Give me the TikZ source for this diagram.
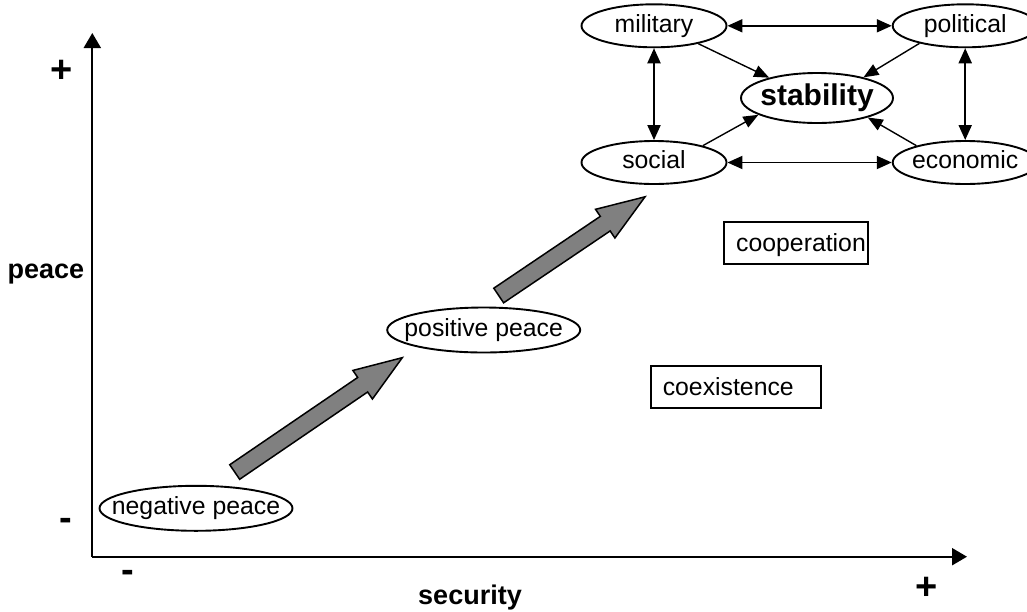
\documentclass[tikz,border=0pt]{standalone}
\usepackage{fontspec}
\setmainfont{Liberation Sans}
\usetikzlibrary{shapes.geometric,arrows.meta}

\tikzset{
  txt/.style={font=\fontsize{24.8}{28}\selectfont},
  oval/.style={ellipse, draw, line width=1.9pt, inner sep=0pt,
    minimum width=145pt, minimum height=43pt,
    text height=17.9pt, text depth=5.2pt, txt},
  bigoval/.style={oval, minimum width=152pt, minimum height=50pt,
    text height=21.6pt, text depth=6.3pt,
    font=\fontsize{30}{34}\selectfont\bfseries},
  peaceoval/.style={oval, minimum width=193pt, minimum height=45pt},
  box/.style={rectangle, draw, line width=1.9pt, inner xsep=12pt,
    minimum height=42pt, align=left, text height=19.3pt, text depth=2pt, txt},
  axislbl/.style={font=\fontsize{27}{30}\selectfont\bfseries},
  signlbl/.style={font=\fontsize{38}{40}\selectfont\bfseries, inner sep=0pt},
  axis/.style={line width=2.1pt, -{Triangle[length=15pt,width=17pt]}},
  link/.style={line width=1.9pt,
    {Triangle[length=15pt,width=13pt]}-{Triangle[length=15pt,width=13pt]}},
  feed/.style={line width=1.4pt, -{Triangle[length=15pt,width=12pt]}},
  bigarrow/.style={draw=black, line width=1.5pt, fill=gray, line join=miter},
  pics/fatarrow/.style={code={
    \path[bigarrow] (0,-8.8) -- ({#1-48},-8.8) -- ({#1-48},-17.3) -- (#1,0)
      -- ({#1-48},17.3) -- ({#1-48},8.8) -- (0,8.8) -- cycle;}}
}

\begin{document}
\begin{tikzpicture}[x=1pt,y=-1pt]
  \clip (0,0) rectangle (1027,611);

  % axes
  \coordinate (O) at (92.3,556.7);
  \coordinate (ytip) at (92.3,33);
  \coordinate (xtip) at (967,556.7);
  \draw[axis] (O) -- (ytip);
  \draw[axis] (O) -- (xtip);

  \node[axislbl] (peacelbl) at (45.8,274) {peace};
  \node[axislbl] (seclbl) at (470,598) {security};
  \node[signlbl] (yplus) at (61.7,71.7) {+};
  \node[signlbl] (yminus) at (65.7,524) {-};
  \node[signlbl] (xminus) at (127.7,576.7) {-};
  \node[signlbl] (xplus) at (927,588) {+};

  % stages of peace
  \node[peaceoval] (neg) at (196,508.3) {\makebox[0pt]{negative peace}};
  \node[peaceoval] (pos) at (483.7,330) {\makebox[0pt]{positive peace}};

  % progress arrows
  \pic[rotate=34.3] at (234.7,472) {fatarrow=202.9};
  \pic[rotate=34.0] at (498.7,295.5) {fatarrow=176.5};

  % regions
  \node[box, text width=120pt] (coop) at (796.2,242.8) {cooperation};
  \node[box, text width=146pt] (coex) at (735.8,386.7) {coexistence};

  % dimensions of stability
  \node[oval] (mil) at (654,25.8) {\makebox[0pt]{military}};
  \node[oval] (pol) at (965.2,25.8) {\makebox[0pt]{political}};
  \node[oval] (soc) at (654,162.5) {\makebox[0pt]{social}};
  \node[oval] (eco) at (965.2,162.5) {\makebox[0pt]{economic}};
  \node[bigoval] (stab) at (817,98) {\makebox[0pt]{stability}};

  \draw[link] (mil) -- (pol);
  \draw[link] (soc) -- (eco);
  \draw[link] (mil) -- (soc);
  \draw[link] (pol) -- (eco);

  \draw[feed] (mil.338) -- (stab.157);
  \draw[feed] (pol.201) -- (stab.24);
  \draw[feed] (soc.19) -- (stab.196);
  \draw[feed] (eco.161) -- (stab.-21);
\end{tikzpicture}
\end{document}
